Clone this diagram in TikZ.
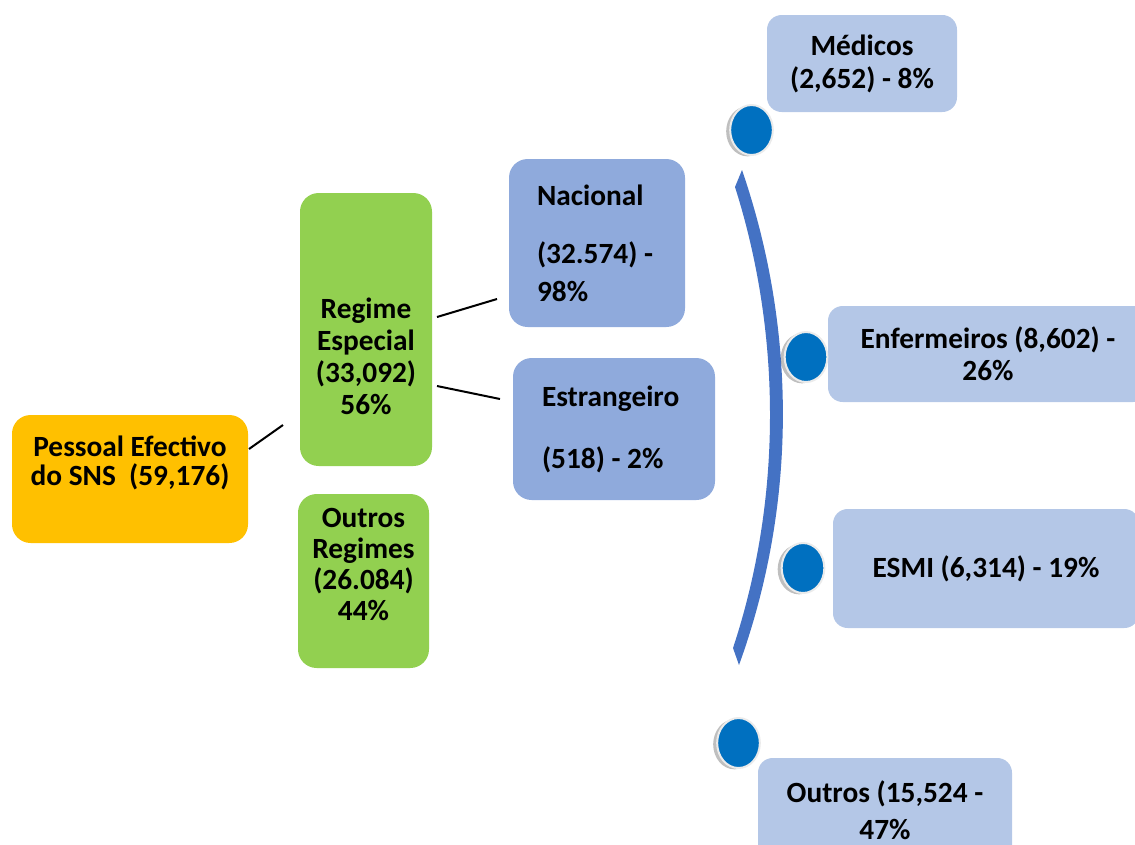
\documentclass[tikz,border=0pt]{standalone}
\usepackage{fontspec}
\setmainfont{Carlito}
\usepackage{xcolor}
\usepackage{tikz}
\usetikzlibrary{shapes.geometric,shadows}
\definecolor{sns}{HTML}{FFC000}
\definecolor{regime}{HTML}{92D050}
\definecolor{origem}{HTML}{8FAADC}
\definecolor{grupo}{HTML}{B4C7E7}
\definecolor{marca}{HTML}{0070C0}
\definecolor{arco}{HTML}{4472C4}

\begin{document}
\begin{tikzpicture}[x=0.75pt,y=-0.75pt,
  caixa/.style={rounded corners=14pt, inner sep=0pt, align=center,
    font=\fontsize{22}{24}\selectfont\bfseries},
  amarela/.style={caixa, fill=sns},
  verde/.style={caixa, fill=regime},
  azul/.style={caixa, fill=origem, align=flush left},
  clara/.style={caixa, fill=grupo, rounded corners=11pt},
  texto/.style={inner sep=0pt, align=center, font=\fontsize{22}{24}\selectfont\bfseries},
  ponto/.style={ellipse, minimum width=32pt, minimum height=37.5pt, inner sep=0pt,
    fill=marca, draw=black!8, line width=1.5pt,
    drop shadow={shadow xshift=-3pt, shadow yshift=-1pt, opacity=0.25, fill=black}},
  liga/.style={line width=1.5pt}]
\useasboundingbox (0,0) rectangle (1135,844);
\clip (0,0) rectangle (1135,844);

\fill[arco] (742,170) .. controls (797,330) and (797,505) .. (739,665)
  -- (733,648) .. controls (782,500) and (782,335) .. (735,187) -- cycle;

\node[amarela, minimum width=177pt, minimum height=96pt,
  font=\fontsize{22}{21.75}\selectfont\bfseries] (pes) at (130,479)
  {Pessoal Efectivo\\do SNS~~(59,176)\\[5pt]};

\node[verde, minimum width=99pt, minimum height=204.75pt] (regesp) at (366,329.5) {};
\node[texto] (regesptxt) at (366,356) {Regime\\Especial\\(33,092)\\56\%};

\node[verde, minimum width=98.25pt, minimum height=130.5pt,
  font=\fontsize{22}{23.25}\selectfont\bfseries] (outreg) at (363.5,581)
  {Outros\\Regimes\\(26.084)\\44\%\\[2pt]};

\node[azul, text width=90pt, inner xsep=21pt, minimum height=126pt,
  font=\fontsize{22}{28}\selectfont\bfseries] (nac) at (597,243)
  {Nacional\\[16pt](32.574) -\\98\%};
\node[azul, text width=108pt, inner xsep=21.75pt, minimum height=106.5pt] (est) at (614,429)
  {Estrangeiro\\[22.5pt](518) - 2\%};

\node[clara, minimum width=142.5pt, minimum height=72.75pt,
  font=\fontsize{22}{24.75}\selectfont\bfseries] (med) at (862,63.5)
  {Médicos\\(2,652) - 8\%};
\node[clara, minimum width=240pt, minimum height=72pt] (enf) at (988,354)
  {Enfermeiros (8,602) -\\26\%};
\node[clara, minimum width=229.5pt, minimum height=89.25pt] (esmi) at (986,568.5)
  {ESMI (6,314) - 19\%};
\node[clara, minimum width=190.5pt, minimum height=78pt,
  font=\fontsize{22}{27.75}\selectfont\bfseries] (outros) at (885,810)
  {Outros (15,524 -\\47\%};

\node[ponto] (p1) at (751.5,130) {};
\node[ponto] (p2) at (806,357) {};
\node[ponto] (p3) at (803,568) {};
\node[ponto] (p4) at (738.5,743) {};

\coordinate (l1a) at (249,449);
\coordinate (l1b) at (283,425);
\coordinate (l2a) at (437,317);
\coordinate (l2b) at (497,299);
\coordinate (l3a) at (437,386);
\coordinate (l3b) at (500,399);
\draw[liga] (l1a) -- (l1b);
\draw[liga] (l2a) -- (l2b);
\draw[liga] (l3a) -- (l3b);
\end{tikzpicture}
\end{document}
